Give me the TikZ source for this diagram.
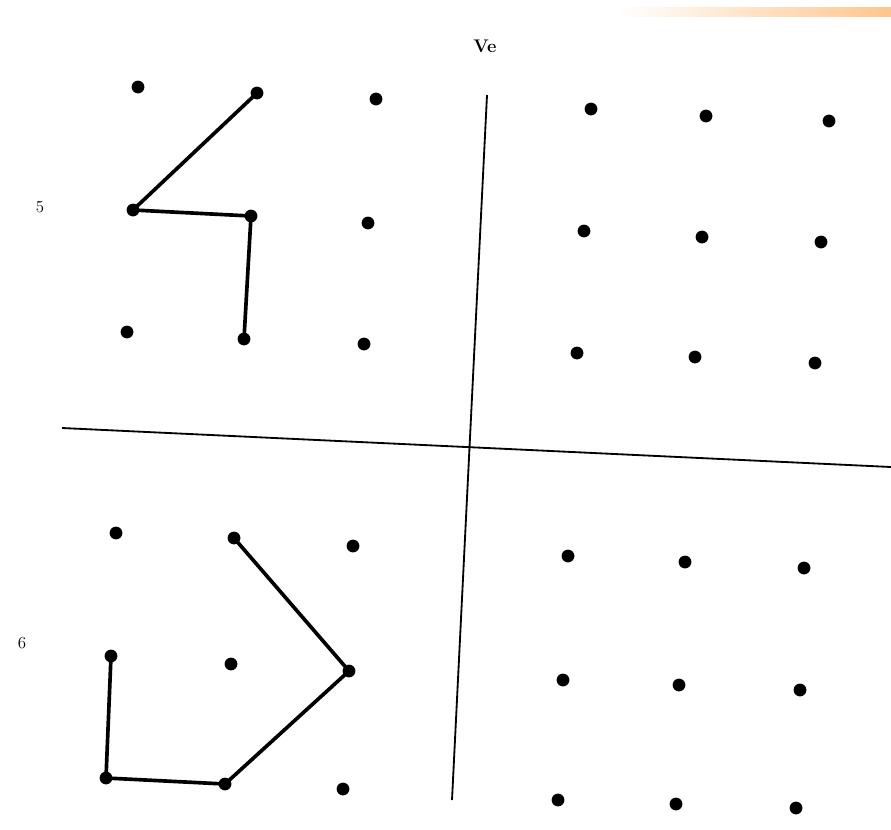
\documentclass[tikz,border=0pt]{standalone}
\usepackage{tikz}
\usetikzlibrary{positioning}

\tikzset{
    dot/.style={circle, fill=black, inner sep=0pt, minimum size=0.32cm},
    stroke/.style={line width=2.6pt, line cap=round, line join=round},
    axisline/.style={line width=1.3pt},
    numlabel/.style={font=\fontsize{12}{14}\selectfont}
}

\begin{document}
\begin{tikzpicture}[x=0.025cm, y=-0.025cm]
    \useasboundingbox (0,0) rectangle (891,829);

    % scanner strip at the top
    \shade[left color=white, right color=orange!45] (617,7) rectangle (891,16);

    % axes
    \coordinate (vtop) at (487,95);
    \coordinate (vbot) at (452,800);
    \coordinate (hleft) at (62,428);
    \coordinate (hright) at (891,467);
    \draw[axisline] (vtop) -- (vbot);
    \draw[axisline] (hleft) -- (hright);

    \node[font=\bfseries\fontsize{13}{15}\selectfont] (title) at (485,46) {Ve};
    \node[numlabel] (lab5) at (40,207) {5};
    \node[numlabel] (lab6) at (22,643) {6};

    % top left grid
    \foreach \name/\x/\y in {a1/138/87, a2/257/93, a3/376/99, a4/133/210, a5/251/216, a6/368/223, a7/127/332, a8/244/339, a9/364/344} {
        \node[dot] (\name) at (\x,\y) {};
    }
    % top right grid
    \foreach \name/\x/\y in {b1/591/109, b2/706/116, b3/829/121, b4/584/231, b5/702/237, b6/821/242, b7/577/353, b8/695/357, b9/815/363} {
        \node[dot] (\name) at (\x,\y) {};
    }
    % bottom left grid
    \foreach \name/\x/\y in {c1/116/533, c2/234/538, c3/353/546, c4/111/656, c5/231/664, c6/349/671, c7/106/778, c8/225/784, c9/343/789} {
        \node[dot] (\name) at (\x,\y) {};
    }
    % bottom right grid
    \foreach \name/\x/\y in {d1/568/556, d2/685/562, d3/804/568, d4/563/680, d5/679/685, d6/800/690, d7/558/800, d8/676/804, d9/796/808} {
        \node[dot] (\name) at (\x,\y) {};
    }

    \draw[stroke] (a2.center) -- (a4.center) -- (a5.center) -- (a8.center);
    \draw[stroke] (c4.center) -- (c7.center) -- (c8.center) -- (c6.center) -- (c2.center);
\end{tikzpicture}
\end{document}
